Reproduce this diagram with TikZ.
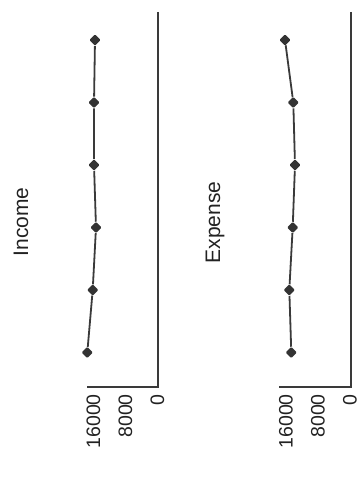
\documentclass[tikz,border=0pt]{standalone}
\usepackage{fontspec}
\setmainfont{Liberation Sans}
\usetikzlibrary{shapes.geometric}
\definecolor{ink}{HTML}{222222}
\definecolor{axisc}{HTML}{3A3A3A}
\definecolor{dotc}{HTML}{333333}
\tikzset{
  axisline/.style={draw=axisc, line width=2.1pt},
  dataline/.style={draw=axisc, line width=1.8pt},
  pt/.style={diamond, fill=dotc, inner sep=0pt, minimum size=11.5pt, rounded corners=1.2pt},
  ticklab/.style={rotate=90, anchor=base east, inner sep=0pt, text=ink, font=\fontsize{19.5}{20}\selectfont},
  title/.style={rotate=90, anchor=base, inner sep=0pt, text=ink, font=\fontsize{21}{22}\selectfont}
}
\begin{document}
\begin{tikzpicture}[x=1pt, y=-1pt]
\useasboundingbox (0,0) rectangle (361,487);
% Income chart
\node[title] (tinc) at (28,222) {Income};
\coordinate (iTop) at (158,12);
\coordinate (iCorner) at (158,387);
\coordinate (iEnd) at (87,387);
\draw[axisline] (iTop) -- (iCorner) -- (iEnd);
\node[ticklab] (i16) at (100.2,394) {16000};
\node[ticklab] (i8) at (132.2,394) {8000};
\node[ticklab] (i0) at (164.2,394) {0};
\node[pt] (ia) at (95,40) {};
\node[pt] (ib) at (94,102.5) {};
\node[pt] (ic) at (94,165) {};
\node[pt] (id) at (96,227.5) {};
\node[pt] (ie) at (92.7,290) {};
\node[pt] (if) at (87.3,352.5) {};
\draw[dataline] (ia) -- (ib) -- (ic) -- (id) -- (ie) -- (if);
% Expense chart
\node[title] (texp) at (220,222.5) {Expense};
\coordinate (eTop) at (351,12);
\coordinate (eCorner) at (351,387);
\coordinate (eEnd) at (279,387);
\draw[axisline] (eTop) -- (eCorner) -- (eEnd);
\node[ticklab] (e16) at (292.7,394) {16000};
\node[ticklab] (e8) at (324.7,394) {8000};
\node[ticklab] (e0) at (356.7,394) {0};
\node[pt] (ea) at (285,40) {};
\node[pt] (eb) at (293.3,102.5) {};
\node[pt] (ec) at (295,165) {};
\node[pt] (ed) at (292.7,227.5) {};
\node[pt] (ee) at (289.3,290) {};
\node[pt] (ef) at (291.3,352.5) {};
\draw[dataline] (ea) -- (eb) -- (ec) -- (ed) -- (ee) -- (ef);
\end{tikzpicture}
\end{document}
